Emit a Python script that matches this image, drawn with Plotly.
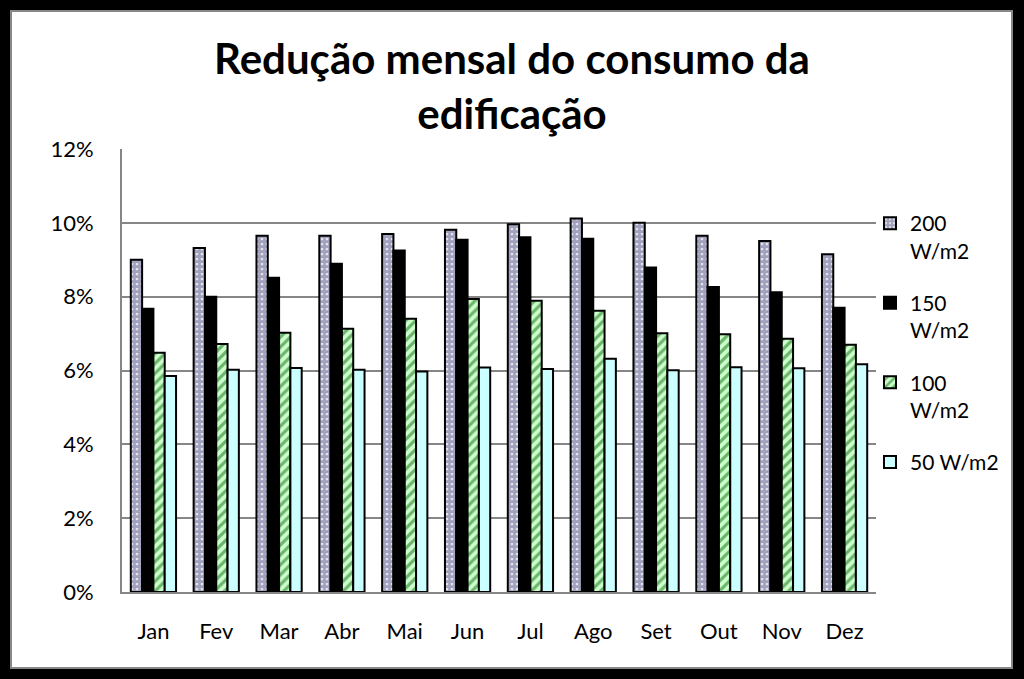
import plotly.graph_objects as go

months = ["Jan", "Fev", "Mar", "Abr", "Mai", "Jun", "Jul", "Ago", "Set", "Out", "Nov", "Dez"]
s200 = [9.00, 9.32, 9.65, 9.65, 9.70, 9.81, 9.96, 10.12, 10.00, 9.65, 9.51, 9.15]
s150 = [7.67, 8.00, 8.51, 8.89, 9.25, 9.54, 9.61, 9.57, 8.79, 8.26, 8.12, 7.70]
s100 = [6.48, 6.72, 7.02, 7.13, 7.40, 7.94, 7.89, 7.62, 7.01, 6.98, 6.86, 6.70]
s50 = [5.85, 6.02, 6.07, 6.02, 5.97, 6.08, 6.04, 6.32, 6.01, 6.09, 6.06, 6.17]
names = ["200<br>W/m2", "150<br>W/m2", "100<br>W/m2", "50 W/m2"]
yticks = [0, 2, 4, 6, 8, 10, 12]

FONT = "Lato"
W, H = 1024, 679
L, R, T, B = 122, 876, 149, 592

fig = go.Figure()
line = dict(color="black", width=2)
fig.add_trace(go.Bar(x=months, y=[v / 100 for v in s200], name=names[0], legendgroup="a",
                     marker=dict(color="white", line=line,
                                 pattern=dict(shape=".", fgcolor="#45457d", bgcolor="white", size=5, solidity=0.8))))
fig.add_trace(go.Bar(x=months, y=[v / 100 for v in s150], name=names[1], legendgroup="b",
                     marker=dict(color="black", line=line)))
fig.add_trace(go.Bar(x=months, y=[v / 100 for v in s100], name=names[2], legendgroup="c",
                     marker=dict(color="#ccffcc", line=line,
                                 pattern=dict(shape="/", fgcolor="#0a6a0a", bgcolor="#ccffcc", size=7, solidity=0.45))))
fig.add_trace(go.Bar(x=months, y=[v / 100 for v in s50], name=names[3], legendgroup="d",
                     marker=dict(color="#ccffff", line=line)))

def px(x):
    return (x - L) / (R - L)

def py(y):
    return (B - y) / (B - T)

fig.add_shape(type="rect", xref="paper", yref="paper", x0=px(11), x1=px(1012), y0=py(668), y1=py(11),
              fillcolor="white", line=dict(color="#888888", width=2), layer="below")

fig.update_layout(
    width=W, height=H, autosize=False,
    margin=dict(l=L, r=W - R, t=T, b=H - B, pad=0),
    paper_bgcolor="black", plot_bgcolor="white",
    barmode="group", bargap=0.28, bargroupgap=0,
    font=dict(family=FONT, color="black", size=21),
    title=dict(text="<b>Redução mensal do consumo da<br>edificação</b>", x=0.5, xref="container", xanchor="center",
               y=1 - 74 / H, yref="container", yanchor="middle", font=dict(family=FONT, size=42, color="black")),
    legend=dict(x=px(870), y=py(203), xanchor="left", yanchor="top", valign="top", tracegroupgap=22,
                itemwidth=30, font=dict(family=FONT, size=21, color="black"), bgcolor="rgba(0,0,0,0)"),
    xaxis=dict(showline=True, linecolor="#868686", linewidth=2, ticks="", tickfont=dict(size=22),
               ticklabelstandoff=19),
    yaxis=dict(range=[0, 0.12], tickvals=[v / 100 for v in yticks], tickformat=".0%",
               showline=True, linecolor="#868686", linewidth=2, gridcolor="#868686", gridwidth=2,
               ticks="", tickfont=dict(size=22), ticklabelstandoff=22, zeroline=False),
)

fig.write_html("out.html", config={"displayModeBar": False},
               post_script="document.body.style.margin='0px';document.body.style.overflow='hidden';")
